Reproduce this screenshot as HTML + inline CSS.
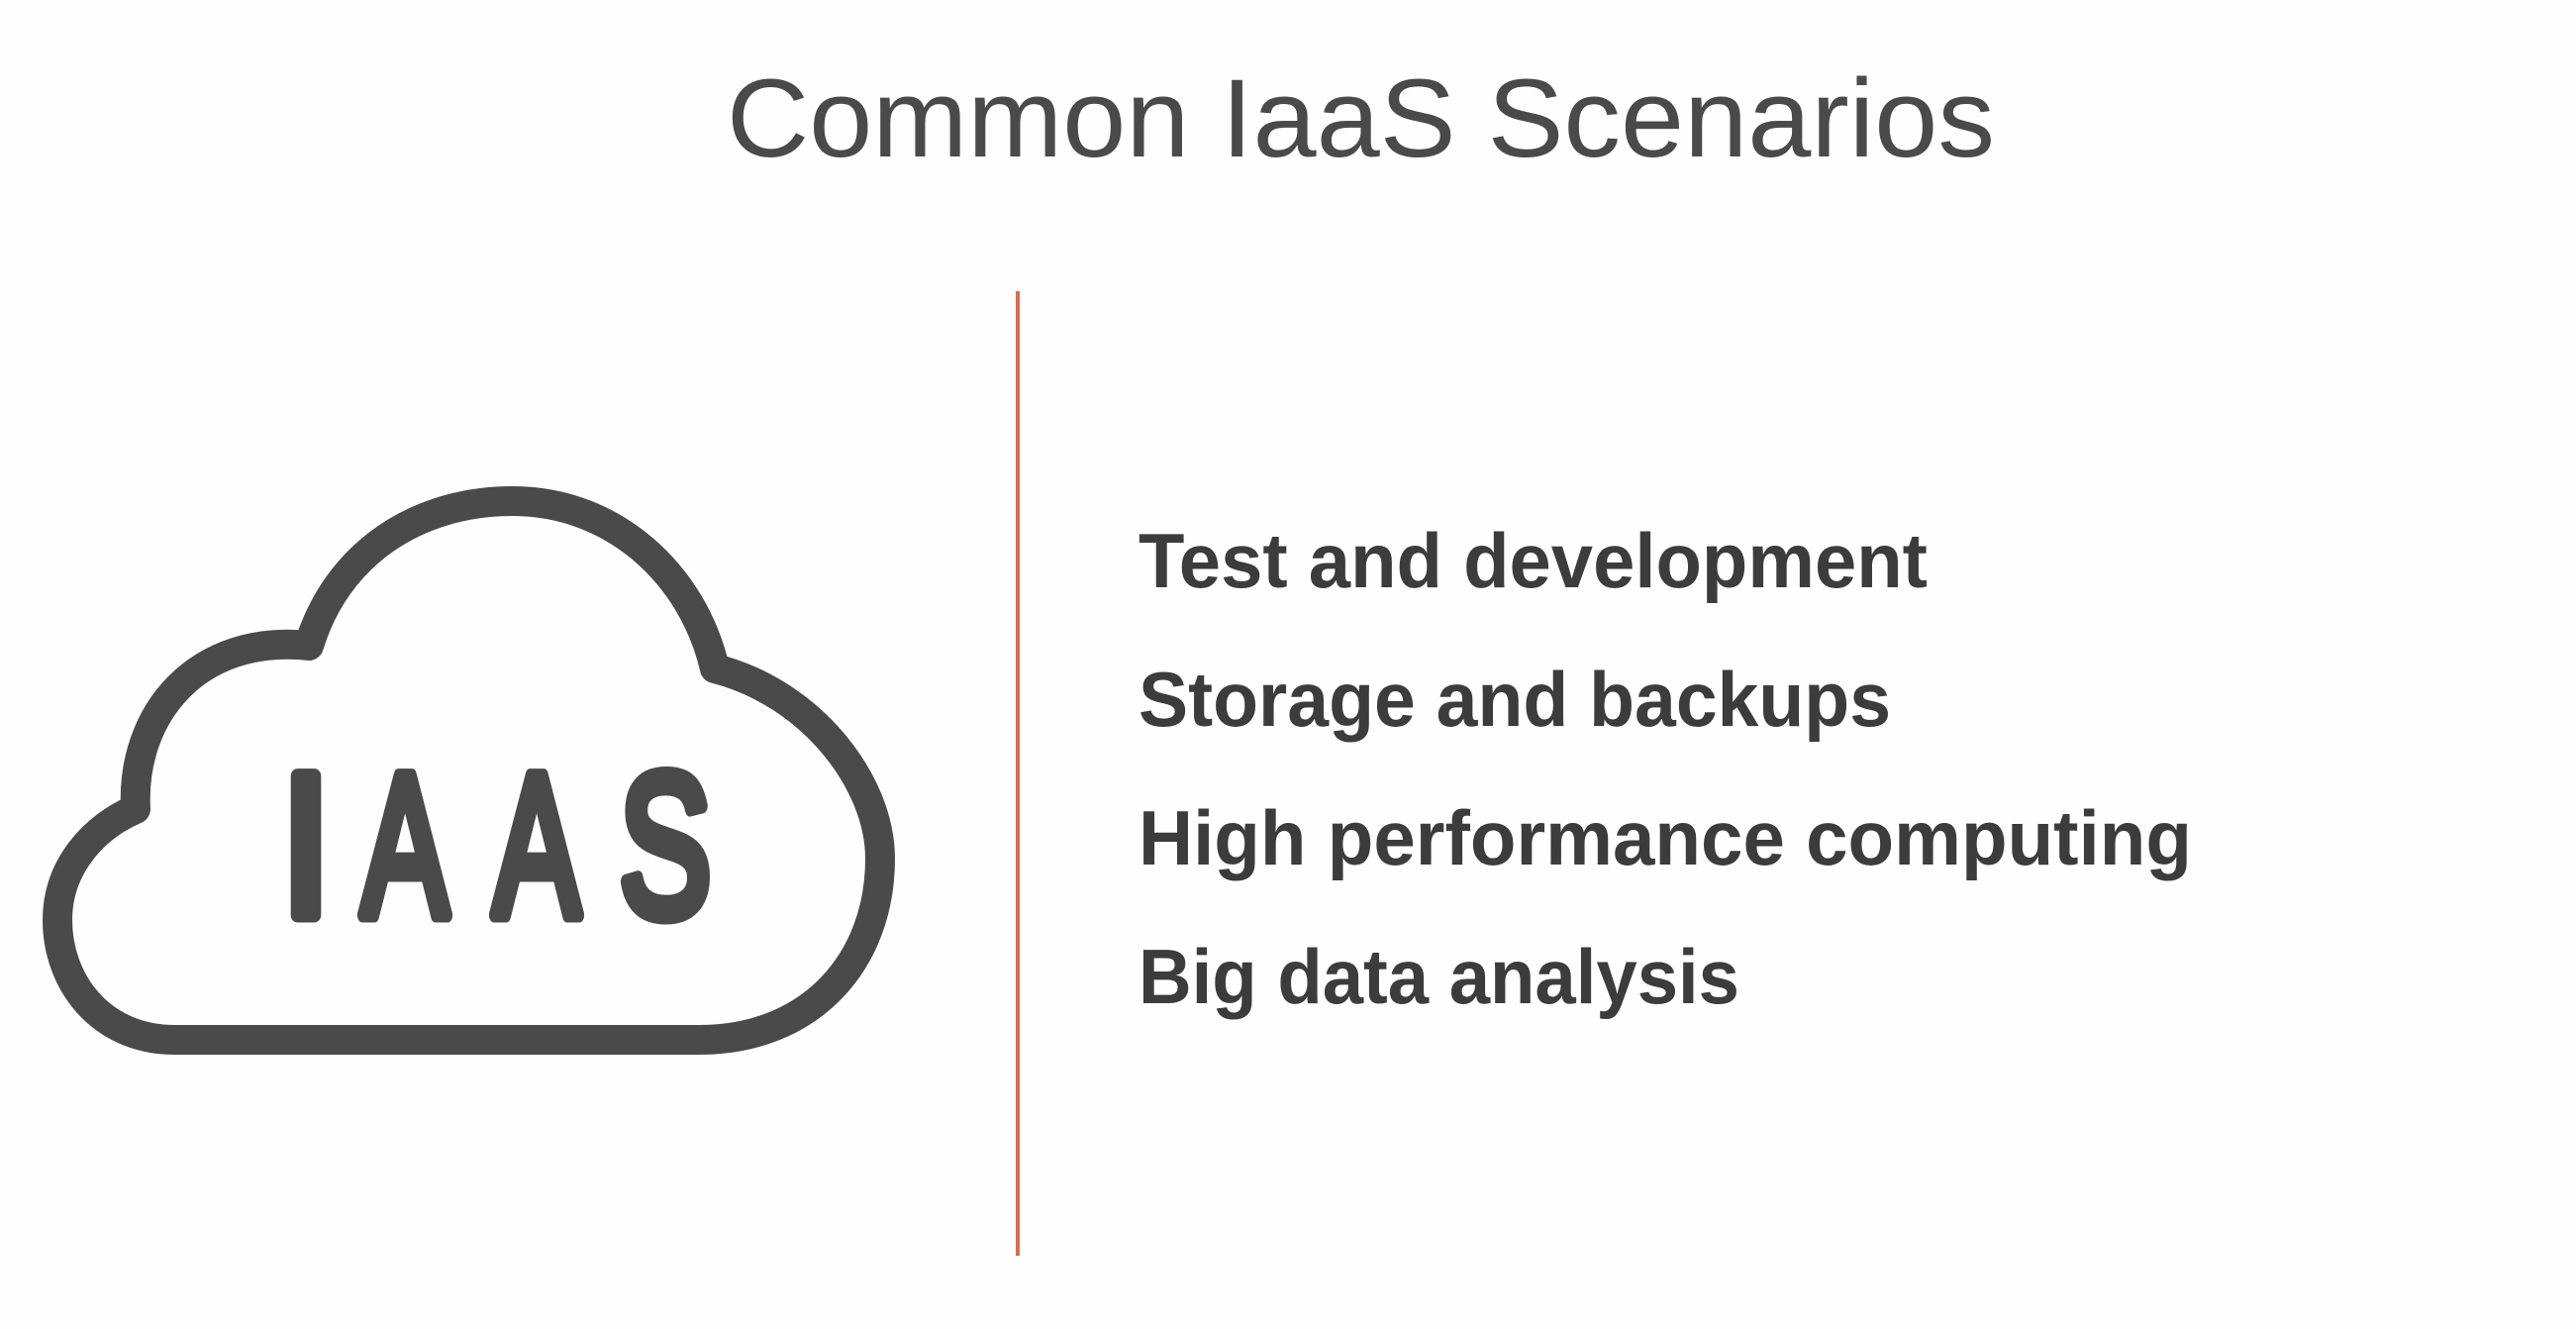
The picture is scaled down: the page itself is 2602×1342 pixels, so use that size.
<!DOCTYPE html>
<html><head><meta charset="utf-8"><style>
html,body{margin:0;padding:0;background:#fff;}
svg{display:block;}
</style></head><body>
<svg width="2602" height="1342" viewBox="0 0 2602 1342" xmlns="http://www.w3.org/2000/svg">
<rect width="2602" height="1342" fill="#fefefe"/>
<text x="734" y="158" font-family="Liberation Sans, sans-serif" font-size="112" fill="#4a4a4a" textLength="1281" lengthAdjust="spacingAndGlyphs" style="font-weight:300">Common IaaS Scenarios</text>
<line x1="1028" y1="294" x2="1028" y2="1268" stroke="#d4704c" stroke-width="4"/>
<g font-family="Liberation Sans, sans-serif" font-size="78" font-weight="bold" fill="#3c3c3c">
<text x="1150" y="593" textLength="797" lengthAdjust="spacingAndGlyphs">Test and development</text>
<text x="1150" y="733" textLength="760" lengthAdjust="spacingAndGlyphs">Storage and backups</text>
<text x="1150" y="873" textLength="1064" lengthAdjust="spacingAndGlyphs">High performance computing</text>
<text x="1150" y="1013" textLength="607" lengthAdjust="spacingAndGlyphs">Big data analysis</text>
</g>
<path d="M177 1050 C100 1050 58 990 58 929 C58 875 95 835 137 817 C132 720 200 640 312 652 C340 560 420 506 518 506 C620 506 700 580 722 675 C820 700 889 790 889 867 C889 970 820 1050 706 1050 Z" fill="none" stroke="#4a4a4a" stroke-width="30" stroke-linejoin="round"/>
<g font-family="Liberation Sans, sans-serif" font-size="204" fill="#4a4a4a" stroke="#4a4a4a" stroke-width="15" stroke-linejoin="round" text-anchor="middle">
<text transform="translate(309 924) scale(0.9 1)">I</text>
<text transform="translate(409 924) scale(0.64 1)">A</text>
<text transform="translate(542 924) scale(0.64 1)">A</text>
<text transform="translate(672 924) scale(0.68 1)">S</text>
</g>
</svg>
</body></html>
